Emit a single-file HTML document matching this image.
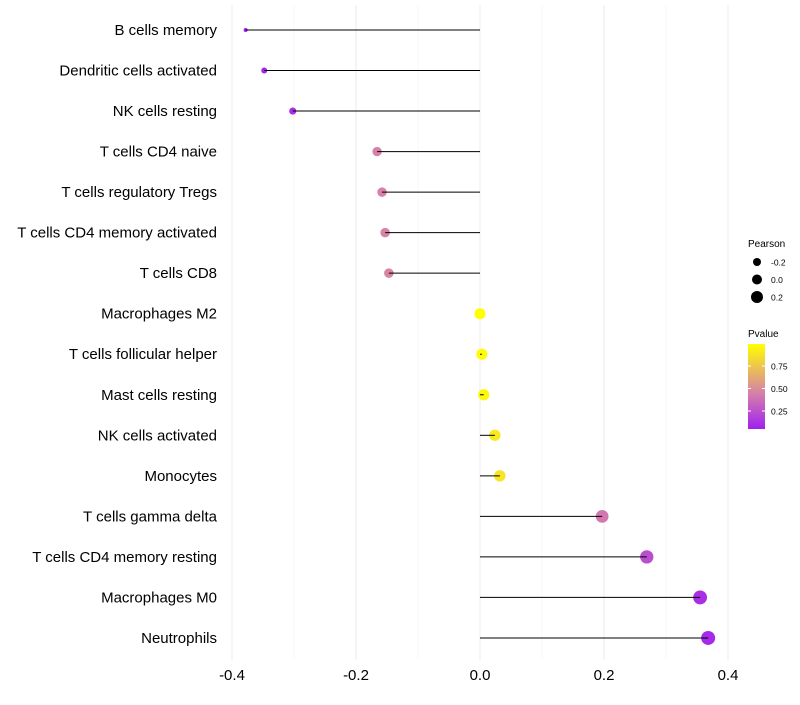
<!DOCTYPE html>
<html><head><meta charset="utf-8"><style>
body{margin:0;background:#fff;font-family:"Liberation Sans",sans-serif}
</style></head><body>
<svg id="chart" width="800" height="700" xmlns="http://www.w3.org/2000/svg" font-family="Liberation Sans, sans-serif"></svg>
<script>
const categories=["B cells memory","Dendritic cells activated","NK cells resting","T cells CD4 naive","T cells regulatory  Tregs ","T cells CD4 memory activated","T cells CD8","Macrophages M2","T cells follicular helper","Mast cells resting","NK cells activated","Monocytes","T cells gamma delta","T cells CD4 memory resting","Macrophages M0","Neutrophils"];
const pearson=[-0.378,-0.348,-0.302,-0.166,-0.158,-0.153,-0.147,0.0,0.003,0.006,0.024,0.032,0.197,0.269,0.355,0.368];
const pvalues=[0.06,0.08,0.12,0.45,0.45,0.46,0.47,0.99,0.98,0.96,0.9,0.88,0.42,0.25,0.12,0.1];
const xTicks=[-0.4,-0.2,0,0.2,0.4];
const xMinor=[-0.3,-0.1,0.1,0.3];
const sizeLegend=[-0.2,0.0,0.2];
const colorTicks=[0.25,0.5,0.75];

const svg=document.getElementById('chart');
const NS="http://www.w3.org/2000/svg";
function mk(tag,attrs,parent){const e=document.createElementNS(NS,tag);for(const k in attrs)e.setAttribute(k,attrs[k]);(parent||svg).appendChild(e);return e;}
const X=v=>480+v*620;
const Y=i=>30+i*40.53;
const R=p=>2+5*Math.sqrt(Math.max(0,(p+0.378)/0.746));
function lerp(a,b,t){return a+(b-a)*t;}
const stops=[[0,[160,32,240]],[0.42,[214,128,170]],[1,[255,255,0]]];
function col(p){const t=Math.min(1,Math.max(0,(p-0.06)/(0.99-0.06)));let a=stops[0],b=stops[1];if(t>stops[1][0]){a=stops[1];b=stops[2];}const u=(t-a[0])/(b[0]-a[0]);return `rgb(${a[1].map((c,j)=>Math.round(lerp(c,b[1][j],u))).join(',')})`;}

xMinor.forEach(v=>{const l=mk('line',{x1:X(v),x2:X(v),y1:5,y2:660,stroke:'#f4f4f4','stroke-width':0.6});

});
xTicks.forEach(v=>{const l=mk('line',{x1:X(v),x2:X(v),y1:5,y2:660,stroke:'#ebebeb','stroke-width':1});


const t=mk('text',{x:X(v),y:680,'text-anchor':'middle','font-size':15,fill:'#000'});t.textContent=(v===0?'0.0':v.toFixed(1));

});
categories.forEach((c,i)=>{
const t=mk('text',{x:217,y:Y(i)+5,'text-anchor':'end','font-size':15,fill:'#000'});t.textContent=c;


const d=mk('circle',{cx:X(pearson[i]),cy:Y(i),r:R(pearson[i]),fill:col(pvalues[i])});


const s=mk('line',{x1:X(0),x2:X(pearson[i]),y1:Y(i),y2:Y(i),stroke:'#000','stroke-width':1});


});
let t=mk('text',{x:748,y:247,'font-size':10});t.textContent='Pearson';


sizeLegend.forEach((v,i)=>{const y=262+i*17.5;
const c=mk('circle',{cx:757,cy:y,r:[4,5,6][i],fill:'#000'});


const l=mk('text',{x:771,y:y+3.5,'font-size':8.5});l.textContent=v.toFixed(1);

});
t=mk('text',{x:748,y:337,'font-size':10});t.textContent='Pvalue';


const defs=mk('defs',{});const g=mk('linearGradient',{id:'pg',x1:0,y1:1,x2:0,y2:0},defs);
[0,0.2,0.42,0.6,0.8,1].forEach(s=>mk('stop',{offset:s,'stop-color':col(0.06+s*0.93)},g));
const bar=mk('rect',{x:748,y:344,width:17,height:85,fill:'url(#pg)'});


const CY=p=>411-(p-0.25)*90;
colorTicks.forEach(v=>{mk('line',{x1:748,x2:751,y1:CY(v),y2:CY(v),stroke:'#fff'});mk('line',{x1:762,x2:765,y1:CY(v),y2:CY(v),stroke:'#fff'});
const l=mk('text',{x:771,y:CY(v)+3.5,'font-size':8.5});l.textContent=v.toFixed(2);

});
</script>
</body></html>
